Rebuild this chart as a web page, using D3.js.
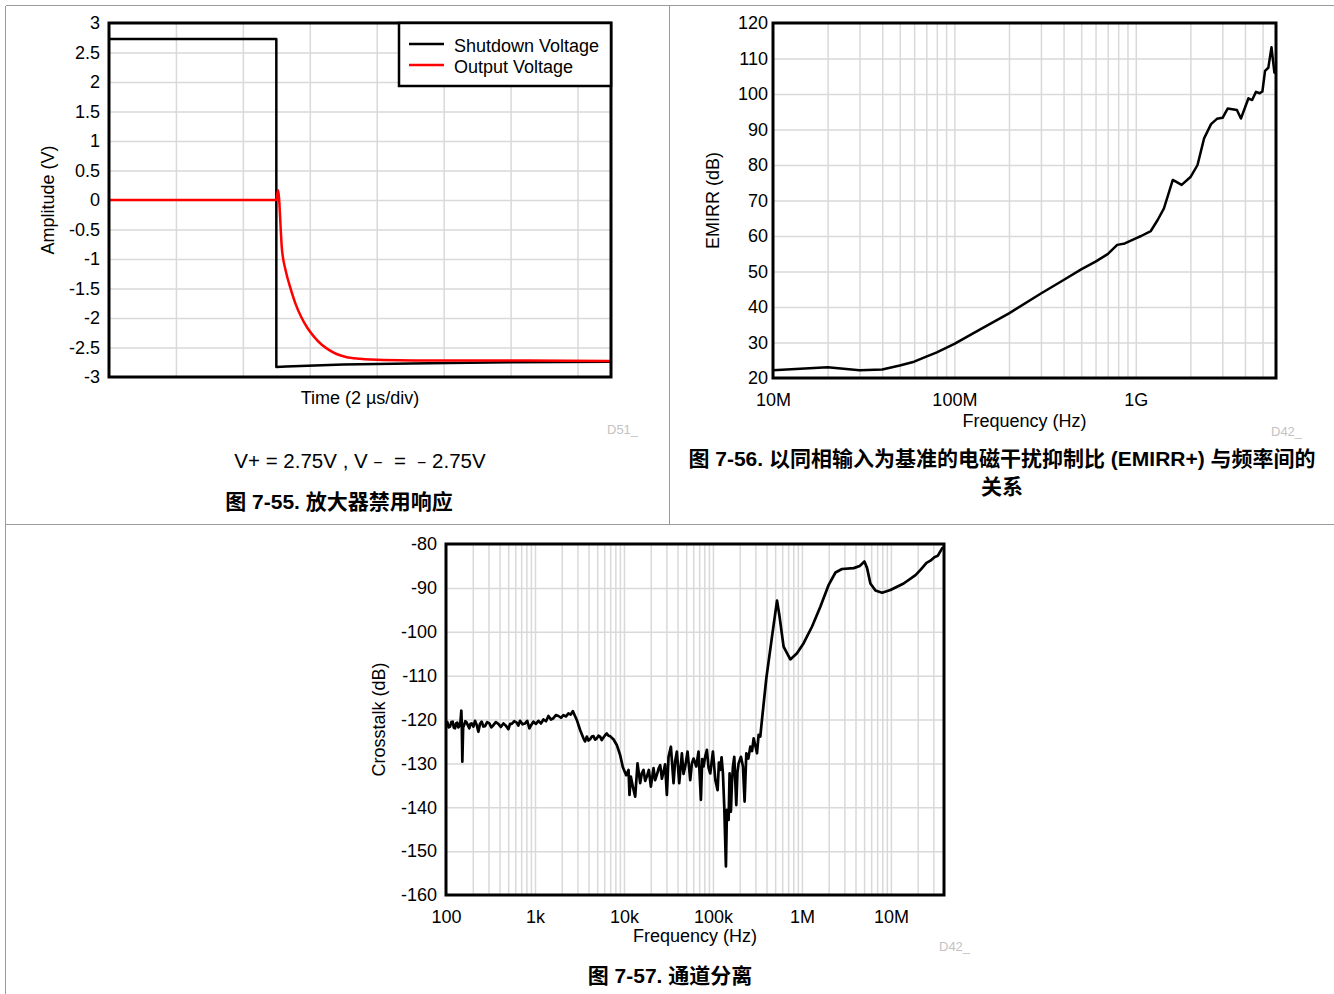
<!DOCTYPE html>
<html><head><meta charset="utf-8">
<script src="https://cdn.jsdelivr.net/npm/d3@7"></script>
<style>
body{margin:0;background:#fff}
svg{display:block}
</style>
</head><body>
<svg id="c" width="1334" height="994"></svg>
<script>
// ---------- Chart 1 : Amplifier shutdown response ----------
const ampTickValues = [3, 2.5, 2, 1.5, 1, 0.5, 0, -0.5, -1, -1.5, -2, -2.5, -3];
const ampTickLabels = ["3", "2.5", "2", "1.5", "1", "0.5", "0", "-0.5", "-1", "-1.5", "-2", "-2.5", "-3"];
const timeGridUs = [2, 4, 6, 8, 10, 12, 14];
const shutdownTimeUs = [0, 5.0, 5.0, 5.3, 7, 9, 12, 15];
const shutdownVolt = [2.73, 2.73, -2.83, -2.82, -2.79, -2.77, -2.75, -2.74];
const outputTimeUs = [0, 5.0, 5.05, 5.17, 5.28, 5.42, 5.58, 5.74, 5.93, 6.13, 6.35, 6.57, 6.8, 7.08, 7.5, 8.2, 10, 12.5, 15];
const outputVolt = [0, 0, 0.17, -0.85, -1.2, -1.49, -1.77, -1.98, -2.17, -2.32, -2.45, -2.54, -2.61, -2.66, -2.69, -2.71, -2.72, -2.72, -2.73];
const legendNames = ["Shutdown Voltage", "Output Voltage"];

// ---------- Chart 2 : EMIRR+ vs frequency ----------
const emirrTickValues = [20, 30, 40, 50, 60, 70, 80, 90, 100, 110, 120];
const emirrFreqTicks = [1e7, 1e8, 1e9];
const emirrFreqLabels = ["10M", "100M", "1G"];
const emirrFreq = [1e7, 2e7, 3e7, 4e7, 5e7, 6e7, 7e7, 8e7, 1e8, 1.42e8, 2e8, 3e8, 4e8, 5e8, 6e8, 7e8, 7.9e8, 8.7e8, 1.0e9, 1.07e9, 1.21e9, 1.32e9, 1.43e9, 1.6e9, 1.79e9, 2.01e9, 2.19e9, 2.38e9, 2.6e9, 2.8e9, 3.01e9, 3.21e9, 3.61e9, 3.8e9, 4.18e9, 4.38e9, 4.6e9, 4.82e9, 4.99e9, 5.16e9, 5.38e9, 5.6e9, 5.81e9, 5.93e9];
const emirrDb = [22.2, 23.0, 22.2, 22.4, 23.5, 24.6, 26.0, 27.2, 29.6, 34.0, 38.2, 43.8, 47.6, 50.6, 52.8, 54.9, 57.5, 57.9, 59.3, 60.0, 61.4, 64.5, 67.8, 75.8, 74.4, 76.7, 80.0, 87.5, 91.5, 93.0, 93.3, 95.9, 95.5, 93.1, 98.8, 98.3, 100.6, 100.2, 100.7, 106.5, 107.4, 113.2, 106.0, 106.0];

// ---------- Chart 3 : Crosstalk vs frequency ----------
const ctTickValues = [-80, -90, -100, -110, -120, -130, -140, -150, -160];
const ctFreqTicks = [1e2, 1e3, 1e4, 1e5, 1e6, 1e7];
const ctFreqLabels = ["100", "1k", "10k", "100k", "1M", "10M"];
const ctFreq = [100, 103.5, 107, 110.9, 114.8, 118.9, 122.5, 126.2, 130, 134, 137.5, 141.2, 145, 148.7, 150.5, 152.6, 155.8, 159.3, 165, 170.7, 176.7, 182.9, 188.5, 194.3, 203, 211.8, 221, 231.1, 241, 251.9, 263, 274.7, 290, 307, 323, 340.6, 363, 387.7, 413, 441.5, 471, 502.6, 525, 548, 585, 623.7, 650, 679.6, 725, 773.7, 818, 865.6, 912, 960, 1025, 1093, 1165, 1245, 1330, 1416, 1510, 1612, 1720, 1835, 1960, 2089, 2230, 2378, 2520, 2660,
  2951, 3216, 3505, 3650, 3821, 3990, 4165, 4350, 4540, 4740, 4949, 5170, 5395, 5630, 5881, 6140, 6411, 6700, 6988, 7300, 7618, 8304, 9052, 9700, 10590,
  11250, 11540, 11940, 12580, 13370, 14200, 15210, 15900, 16590, 17300, 18080, 19050, 20060, 21490, 22400, 23430, 24500, 25540, 26700, 27840, 29000, 30350, 31690, 33670, 36060, 37600, 39330, 41780, 44770, 46700, 48790, 51840, 55560, 58000, 60570, 64920, 68900, 73200, 75800, 78470, 81900, 85520, 89300, 93240, 99950, 106300, 112800, 116700, 120800, 125000, 129500, 134000, 139900, 143600, 150000, 153800, 159200, 163400, 167800, 173700, 182900, 188500, 194300, 206400, 217400, 226900, 237100, 250000, 263000, 275000, 286600, 300000, 312500, 326100, 340500, 355400,
  398000, 461000, 525000, 561000, 622000, 740000, 880000, 1045000, 1300000, 1610000, 2000000, 2380000, 2820000, 3820000, 4460000, 5040000, 5400000, 5880000, 6700000, 7960000, 9870000, 13900000, 18900000, 21500000, 25100000, 27800000, 30800000, 33600000, 37600000, 39500000];
const ctDb = [-121.0, -120.6, -121.8, -121.6, -120.6, -120.5, -121.9, -122.0, -120.9, -120.7, -121.8, -121.5, -120.8, -118.0, -121.2, -129.6, -121.8, -121.3, -120.4, -120.7, -121.4, -122.0, -121.0, -120.9, -121.6, -120.3, -121.2, -122.8, -121.0, -120.5, -121.6, -121.5, -120.6, -120.9, -121.8, -121.3, -120.6, -121.0, -121.7, -120.9, -121.4, -122.2, -121.0, -121.0, -120.4, -120.7, -121.4, -120.3, -121.1, -120.9, -120.3, -122.0, -121.2, -120.5, -121.0, -120.3, -120.9, -120.0, -120.4, -119.2, -120.0, -119.7, -119.0, -119.2, -119.6, -119.0, -119.3, -118.6, -118.9, -118.1,
  -120.1, -122.4, -124.3, -125.0, -123.9, -124.8, -124.5, -123.9, -123.8, -124.6, -124.3, -123.7, -123.9, -124.7, -124.1, -123.6, -123.2, -123.7, -123.8, -124.2, -124.5, -125.8, -128.1, -130.8, -132.7,
  -131.5, -137.2, -133.0, -135.3, -137.6, -130.0, -134.5, -132.2, -131.5, -134.0, -133.0, -131.5, -135.3, -131.1, -133.8, -132.6, -131.2, -130.4, -133.5, -131.9, -130.2, -137.2, -128.5, -126.2, -134.5, -129.5, -127.3, -134.5, -127.7, -132.4, -130.7, -127.3, -133.8, -130.0, -128.9, -130.7, -127.3, -138.3, -129.0, -130.7, -128.4, -126.9, -131.0, -132.3, -127.3, -133.8, -136.1, -129.8, -131.5, -128.6, -132.3, -139.9, -153.5, -140.6, -142.9, -132.3, -141.0, -134.5, -130.7, -128.5, -139.5, -132.0, -130.0, -128.5, -130.7, -138.7, -127.7, -128.9, -126.2, -127.2, -124.3, -126.0, -127.7, -123.5, -123.9, -120.1,
  -110.6, -101.1, -92.9, -96.6, -103.4, -106.3, -104.9, -102.6, -98.8, -94.3, -89.3, -86.5, -85.7, -85.5, -85.0, -84.0, -85.5, -89.0, -90.6, -91.1, -90.5, -89.0, -87.1, -85.9, -84.3, -83.8, -83.0, -82.7, -81.0, -80.7];

// ---------- drawing ----------
const FONT = '"Liberation Sans", Arial, "Noto Sans CJK SC", sans-serif';
const CJK = '"Liberation Sans", Arial, "Noto Sans CJK SC", sans-serif';
const svg = d3.select("#c");

// panel frame lines
const frame = svg.append("g").attr("stroke", "#9a9a9a").attr("stroke-width", 1).attr("shape-rendering", "crispEdges");
frame.append("line").attr("x1", 5.5).attr("x2", 5.5).attr("y1", 5.5).attr("y2", 994);
frame.append("line").attr("x1", 5.5).attr("x2", 1334).attr("y1", 5.5).attr("y2", 5.5);
frame.append("line").attr("x1", 669.5).attr("x2", 669.5).attr("y1", 5.5).attr("y2", 524.5);
frame.append("line").attr("x1", 5.5).attr("x2", 1334).attr("y1", 524.5).attr("y2", 524.5);

function logGrid(lo, hi) {
  const out = [];
  for (let e = Math.floor(Math.log10(lo)); e <= Math.ceil(Math.log10(hi)); e++)
    for (let m = 1; m < 10; m++) { const v = m * Math.pow(10, e); if (v > lo * 1.001 && v < hi * 0.999) out.push(v); }
  return out;
}

function styleGrid(g) {
  g.select(".domain").remove();
  g.selectAll("line").attr("stroke", "#d9d9d9").attr("stroke-width", 1.5);
}

function panel(o) {
  const g = svg.append("g");
  const w = o.x1 - o.x0, h = o.y1 - o.y0;
  g.append("g").attr("transform", `translate(0,${o.y1})`)
    .call(d3.axisBottom(o.x).tickValues(o.xGrid).tickSize(-h).tickFormat(""))
    .call(styleGrid);
  g.append("g").attr("transform", `translate(${o.x0},0)`)
    .call(d3.axisLeft(o.y).tickValues(o.yTicks.slice(1, -1)).tickSize(-w).tickFormat(""))
    .call(styleGrid);
  const ya = g.append("g").attr("transform", `translate(${o.x0},0)`)
    .call(d3.axisLeft(o.y).tickValues(o.yTicks).tickFormat((d, i) => o.yLabels[i]).tickSize(0).tickPadding(o.yPad));
  ya.select(".domain").remove();
  ya.attr("font-family", FONT).attr("font-size", 18);
  ya.selectAll("text").attr("fill", "#000");
  if (o.xTicks) {
    const xa = g.append("g").attr("transform", `translate(0,${o.y1})`)
      .call(d3.axisBottom(o.x).tickValues(o.xTicks).tickFormat((d, i) => o.xLabels[i]).tickSize(0).tickPadding(15));
    xa.select(".domain").remove();
    xa.attr("font-family", FONT).attr("font-size", 18);
    xa.selectAll("text").attr("fill", "#000");
  }
  const clipId = "clip" + Math.round(o.x0);
  g.append("clipPath").attr("id", clipId).append("rect").attr("x", o.x0).attr("y", o.y0 - 2).attr("width", w).attr("height", h + 4);
  const lines = g.append("g").attr("clip-path", `url(#${clipId})`);
  o.series.forEach(s => {
    lines.append("path").datum(s.data)
      .attr("fill", "none").attr("stroke", s.color).attr("stroke-width", s.width || 2.5)
      .attr("stroke-linejoin", "round")
      .attr("d", d3.line().x(d => o.x(d[0])).y(d => o.y(d[1])).curve(s.curve || d3.curveLinear));
  });
  g.append("rect").attr("x", o.x0).attr("y", o.y0).attr("width", w).attr("height", h)
    .attr("fill", "none").attr("stroke", "#000").attr("stroke-width", 3);
  g.append("text").attr("x", (o.x0 + o.x1) / 2).attr("y", o.xTitleY).attr("text-anchor", "middle")
    .attr("font-family", FONT).attr("font-size", 18).text(o.xTitle);
  g.append("text").attr("transform", `translate(${o.yTitleX},${(o.y0 + o.y1) / 2}) rotate(-90)`).attr("text-anchor", "middle")
    .attr("font-family", FONT).attr("font-size", 18).text(o.yTitle);
  g.append("text").attr("x", o.dX).attr("y", o.dY).attr("font-family", FONT).attr("font-size", 13)
    .attr("fill", "#c3c3c3").text(o.dLabel);
  return g;
}

// Chart 1
const x1 = d3.scaleLinear().domain([0, 15]).range([109, 611]);
const y1 = d3.scaleLinear().domain([-3, 3]).range([377, 23]);
const g1 = panel({
  x0: 109, x1: 611, y0: 23, y1: 377, x: x1, y: y1,
  xGrid: timeGridUs, yTicks: ampTickValues, yLabels: ampTickLabels, yPad: 9,
  series: [
    { data: d3.zip(shutdownTimeUs, shutdownVolt), color: "#000" },
    { data: d3.zip(outputTimeUs, outputVolt), color: "#ff0000", curve: d3.curveMonotoneX }
  ],
  xTitle: "Time (2 µs/div)", xTitleY: 404, yTitle: "Amplitude (V)", yTitleX: 54,
  dLabel: "D51_", dX: 607, dY: 434
});
const lg = g1.append("g");
lg.append("rect").attr("x", 399).attr("y", 23).attr("width", 212).attr("height", 63)
  .attr("fill", "#fff").attr("stroke", "#000").attr("stroke-width", 2.5);
[["#000", 44, 51.5], ["#ff0000", 65, 72.5]].forEach((c, i) => {
  lg.append("line").attr("x1", 409).attr("x2", 444).attr("y1", c[1]).attr("y2", c[1]).attr("stroke", c[0]).attr("stroke-width", 2.5);
  lg.append("text").attr("x", 454).attr("y", c[2]).attr("font-family", FONT).attr("font-size", 18).text(legendNames[i]);
});
svg.append("text").attr("x", 360).attr("y", 468).attr("text-anchor", "middle")
  .attr("font-family", CJK).attr("font-size", 20.5).text("V+ = 2.75V , V﹣ = ﹣2.75V");
svg.append("text").attr("x", 339).attr("y", 509).attr("text-anchor", "middle")
  .attr("font-family", CJK).attr("font-size", 21).attr("font-weight", "bold").text("图 7-55. 放大器禁用响应");

// Chart 2
const x2 = d3.scaleLog().domain([1e7, 5.93e9]).range([773, 1276]);
const y2 = d3.scaleLinear().domain([20, 120]).range([378, 23]);
panel({
  x0: 773, x1: 1276, y0: 23, y1: 378, x: x2, y: y2,
  xGrid: logGrid(1e7, 5.93e9), yTicks: emirrTickValues, yLabels: emirrTickValues.map(String), yPad: 5,
  xTicks: emirrFreqTicks, xLabels: emirrFreqLabels,
  series: [{ data: d3.zip(emirrFreq, emirrDb), color: "#000" }],
  xTitle: "Frequency (Hz)", xTitleY: 427, yTitle: "EMIRR (dB)", yTitleX: 719,
  dLabel: "D42_", dX: 1271, dY: 436
});
svg.append("text").attr("x", 1002).attr("y", 466).attr("text-anchor", "middle")
  .attr("font-family", CJK).attr("font-size", 21).attr("font-weight", "bold").text("图 7-56. 以同相输入为基准的电磁干扰抑制比 (EMIRR+) 与频率间的");
svg.append("text").attr("x", 1002).attr("y", 494).attr("text-anchor", "middle")
  .attr("font-family", CJK).attr("font-size", 21).attr("font-weight", "bold").text("关系");

// Chart 3
const x3 = d3.scaleLog().domain([100, 3.95e7]).range([446, 944]);
const y3 = d3.scaleLinear().domain([-160, -80]).range([895, 544]);
panel({
  x0: 446, x1: 944, y0: 544, y1: 895, x: x3, y: y3,
  xGrid: logGrid(100, 3.95e7), yTicks: ctTickValues, yLabels: ctTickValues.map(String), yPad: 9,
  xTicks: ctFreqTicks, xLabels: ctFreqLabels,
  series: [{ data: d3.zip(ctFreq, ctDb), color: "#000", width: 2.7 }],
  xTitle: "Frequency (Hz)", xTitleY: 942, yTitle: "Crosstalk (dB)", yTitleX: 385,
  dLabel: "D42_", dX: 939, dY: 951
});
svg.append("text").attr("x", 670).attr("y", 983).attr("text-anchor", "middle")
  .attr("font-family", CJK).attr("font-size", 21).attr("font-weight", "bold").text("图 7-57. 通道分离");
</script>
</body></html>
